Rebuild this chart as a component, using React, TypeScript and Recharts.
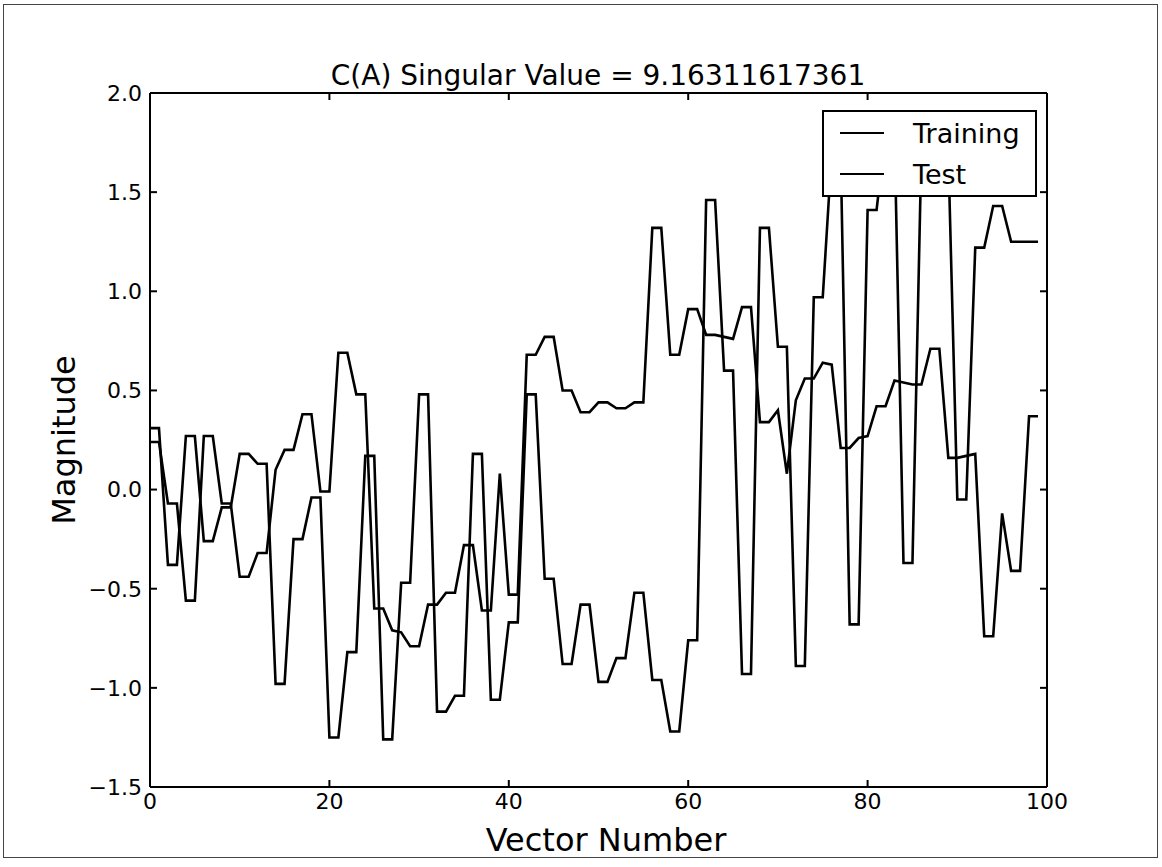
import React from "react";
import { LineChart, Line, XAxis, YAxis, Legend, ReferenceLine } from "recharts";

const FONT = "'DejaVu Sans', sans-serif";

// values, one per vector number (0..99)
const training = [
  0.31, 0.31, -0.38, -0.38, 0.27, 0.27, -0.26, -0.26, -0.09, -0.09,
  0.18, 0.18, 0.13, 0.13, -0.98, -0.98, -0.25, -0.25, -0.04, -0.04,
  -1.25, -1.25, -0.82, -0.82, 0.17, 0.17, -1.26, -1.26, -0.47, -0.47,
  0.48, 0.48, -1.12, -1.12, -1.04, -1.04, 0.18, 0.18, -1.06, -1.06,
  -0.67, -0.67, 0.48, 0.48, -0.45, -0.45, -0.88, -0.88, -0.58, -0.58,
  -0.97, -0.97, -0.85, -0.85, -0.52, -0.52, -0.96, -0.96, -1.22, -1.22,
  -0.76, -0.76, 1.46, 1.46, 0.6, 0.6, -0.93, -0.93, 1.32, 1.32,
  0.72, 0.72, -0.89, -0.89, 0.97, 0.97, 1.7, 1.7, -0.68, -0.68,
  1.41, 1.41, 1.8, 1.8, -0.37, -0.37, 1.72, 1.8, 1.8, 1.7,
  -0.05, -0.05, 1.22, 1.22, 1.43, 1.43, 1.25, 1.25, 1.25, 1.25,
];

const test = [
  0.24, 0.24, -0.07, -0.07, -0.56, -0.56, 0.27, 0.27, -0.07, -0.07,
  -0.44, -0.44, -0.32, -0.32, 0.1, 0.2, 0.2, 0.38, 0.38, -0.01,
  -0.01, 0.69, 0.69, 0.48, 0.48, -0.6, -0.6, -0.71, -0.72, -0.79,
  -0.79, -0.58, -0.58, -0.52, -0.52, -0.28, -0.28, -0.61, -0.61, 0.08,
  -0.53, -0.53, 0.68, 0.68, 0.77, 0.77, 0.5, 0.5, 0.39, 0.39,
  0.44, 0.44, 0.41, 0.41, 0.44, 0.44, 1.32, 1.32, 0.68, 0.68,
  0.91, 0.91, 0.78, 0.78, 0.77, 0.76, 0.92, 0.92, 0.34, 0.34,
  0.4, 0.08, 0.45, 0.56, 0.56, 0.64, 0.63, 0.21, 0.21, 0.26,
  0.27, 0.42, 0.42, 0.55, 0.54, 0.53, 0.53, 0.71, 0.71, 0.16,
  0.16, 0.17, 0.18, -0.74, -0.74, -0.12, -0.41, -0.41, 0.37, 0.37,
];

const seriesNames = ["Training", "Test"];
const xTicks = [0, 20, 40, 60, 80, 100];
const yTicks = [-1.5, -1.0, -0.5, 0.0, 0.5, 1.0, 1.5, 2.0];

const rows = training.map((v, i) => ({ n: i, training: v, test: test[i] }));

const fmtY = (v: number) => (v < 0 ? "\u2212" + Math.abs(v).toFixed(1) : v.toFixed(1));

const tickFont = { fill: "#000", fontSize: 22, fontFamily: FONT };
const LINE_W = 2.6;
const NoLabel = () => <g />;

function LegendBox({ payload }: any) {
  const items = (payload || [])
    .filter((p: any) => seriesNames.includes(p.value))
    .sort((a: any, b: any) => seriesNames.indexOf(a.value) - seriesNames.indexOf(b.value));
  return (
    <div
      style={{
        width: 215,
        height: 87,
        boxSizing: "border-box",
        background: "#fff",
        border: "2px solid #000",
        position: "relative",
        fontFamily: FONT,
        fontSize: 27,
        color: "#000",
      }}
    >
      {items.map((p: any, i: number) => (
        <div
          key={p.value}
          style={{
            position: "absolute",
            left: 16,
            top: 4 + i * 41,
            height: 34,
            display: "flex",
            alignItems: "center",
            whiteSpace: "nowrap",
          }}
        >
          <svg width={44} height={4}>
            <line x1={0} y1={2} x2={44} y2={2} stroke="#000" strokeWidth={2} />
          </svg>
          <span style={{ marginLeft: 29 }}>{p.value}</span>
        </div>
      ))}
    </div>
  );
}

export default function App() {
  return (
    <div
      style={{
        position: "absolute",
        left: 0,
        top: 0,
        width: 1162,
        height: 867,
        background: "#fff",
        fontFamily: FONT,
      }}
    >
      <div
        style={{
          position: "absolute",
          left: 3,
          top: 4,
          width: 1153,
          height: 852,
          border: "1.5px solid #444",
          pointerEvents: "none",
        }}
      />
      <div
        style={{
          position: "absolute",
          left: 598,
          top: 62,
          transform: "translateX(-50%)",
          fontSize: 28,
          lineHeight: "28px",
          whiteSpace: "nowrap",
          color: "#000",
        }}
      >
        C(A) Singular Value = 9.16311617361
      </div>
      <div
        style={{
          position: "absolute",
          left: 606,
          top: 824,
          transform: "translateX(-50%)",
          fontSize: 32,
          lineHeight: "32px",
          whiteSpace: "nowrap",
          color: "#000",
        }}
      >
        Vector Number
      </div>
      <div
        style={{
          position: "absolute",
          left: 64,
          top: 440,
          transform: "translate(-50%, -50%) rotate(-90deg)",
          fontSize: 32,
          lineHeight: "32px",
          whiteSpace: "nowrap",
          color: "#000",
        }}
      >
        Magnitude
      </div>

      <LineChart
        width={1162}
        height={867}
        data={rows}
        margin={{ top: 92, right: 114, bottom: 40, left: 110 }}
      >
        <XAxis
          xAxisId="bottom"
          dataKey="n"
          type="number"
          domain={[0, 100]}
          ticks={xTicks}
          interval={0}
          allowDataOverflow
          height={40}
          tickSize={-7}
          tickMargin={13}
          stroke="#000"
          strokeWidth={2}
          tick={tickFont}
        />
        <XAxis
          xAxisId="top"
          orientation="top"
          dataKey="n"
          type="number"
          domain={[0, 100]}
          ticks={xTicks}
          interval={0}
          allowDataOverflow
          height={1}
          tickSize={-7}
          stroke="#000"
          strokeWidth={2}
          tick={NoLabel}
        />
        <YAxis
          yAxisId="left"
          type="number"
          domain={[-1.5, 2]}
          ticks={yTicks}
          interval={0}
          allowDataOverflow
          width={40}
          tickSize={-7}
          tickMargin={15}
          tickFormatter={fmtY}
          stroke="#000"
          strokeWidth={2}
          tick={tickFont}
        />
        <YAxis
          yAxisId="right"
          orientation="right"
          type="number"
          domain={[-1.5, 2]}
          ticks={yTicks}
          interval={0}
          allowDataOverflow
          width={1}
          tickSize={-7}
          stroke="#000"
          strokeWidth={2}
          tick={NoLabel}
        />
        {/* frame edges at the top and right of the plot */}
        <ReferenceLine xAxisId="bottom" yAxisId="left" y={2} stroke="#000" strokeWidth={2} />
        <ReferenceLine xAxisId="bottom" yAxisId="left" x={100} stroke="#000" strokeWidth={2} />
        <Line
          xAxisId="bottom"
          yAxisId="left"
          type="linear"
          dataKey="training"
          name="Training"
          stroke="#000"
          strokeWidth={LINE_W}
          dot={false}
          activeDot={false}
          isAnimationActive={false}
        />
        <Line
          xAxisId="bottom"
          yAxisId="left"
          type="linear"
          dataKey="test"
          name="Test"
          stroke="#000"
          strokeWidth={LINE_W}
          dot={false}
          activeDot={false}
          isAnimationActive={false}
        />
        <Line
          xAxisId="top"
          yAxisId="right"
          type="linear"
          dataKey="test"
          name="frame"
          stroke="transparent"
          strokeWidth={1}
          dot={false}
          activeDot={false}
          legendType="none"
          isAnimationActive={false}
        />
        <Legend
          layout="vertical"
          align="center"
          verticalAlign="middle"
          content={LegendBox}
          wrapperStyle={{ left: 822, top: 110, width: 215, height: 87 }}
        />
      </LineChart>
    </div>
  );
}
